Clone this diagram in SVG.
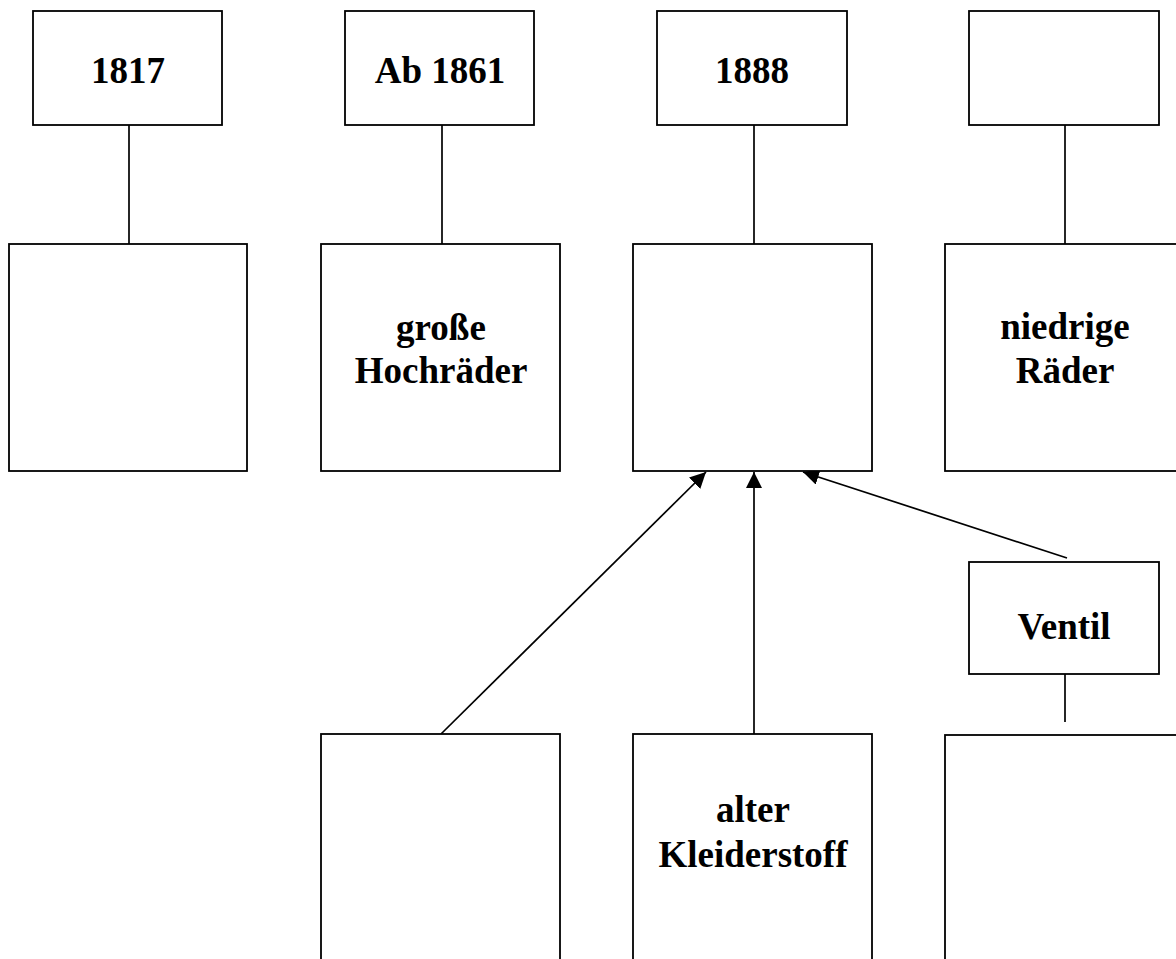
<svg xmlns="http://www.w3.org/2000/svg" width="1176" height="959" viewBox="0 0 1176 959">
<style>
.box{fill:#fff;stroke:#000;stroke-width:1.8}
.ln{fill:none;stroke:#000;stroke-width:1.7}
.t{font-family:"Liberation Serif","Times New Roman",serif;font-weight:bold;font-size:37px;fill:#000;text-anchor:middle}
</style>
<defs>
<marker id="ah" markerUnits="userSpaceOnUse" markerWidth="17" markerHeight="17" refX="16" refY="8" orient="auto">
<path d="M0,0 L16,8 L0,16 z" fill="#000"/>
</marker>
</defs>
<rect width="1176" height="959" fill="#fff"/>
<g id="connectors">
<line class="ln" x1="129" y1="125" x2="129" y2="245"/>
<line class="ln" x1="442" y1="125" x2="442" y2="245"/>
<line class="ln" x1="754" y1="125" x2="754" y2="245"/>
<line class="ln" x1="1065" y1="125" x2="1065" y2="245"/>
<line class="ln" x1="1065" y1="674" x2="1065" y2="722"/>
<line class="ln" x1="441" y1="734" x2="706" y2="472" marker-end="url(#ah)"/>
<line class="ln" x1="754" y1="734" x2="754" y2="472" marker-end="url(#ah)"/>
<line class="ln" x1="1067" y1="558" x2="803" y2="472" marker-end="url(#ah)"/>
</g>
<g id="n1817"><rect class="box" x="33" y="11" width="189" height="114"/><text class="t" x="128" y="83">1817</text></g>
<g id="n1861"><rect class="box" x="345" y="11" width="189" height="114"/><text class="t" x="440" y="83">Ab 1861</text></g>
<g id="n1888"><rect class="box" x="657" y="11" width="190" height="114"/><text class="t" x="752" y="83">1888</text></g>
<g id="nTop4"><rect class="box" x="969" y="11" width="190" height="114"/></g>
<g id="nMid1"><rect class="box" x="9" y="244" width="238" height="227"/></g>
<g id="nMid2"><rect class="box" x="321" y="244" width="239" height="227"/><text class="t" x="441" y="340">große</text><text class="t" x="441" y="383">Hochräder</text></g>
<g id="nMid3"><rect class="box" x="633" y="244" width="239" height="227"/></g>
<g id="nMid4"><rect class="box" x="945" y="244" width="239" height="227"/><text class="t" x="1065" y="339">niedrige</text><text class="t" x="1065" y="383">Räder</text></g>
<g id="nVentil"><rect class="box" x="969" y="562" width="190" height="112"/><text class="t" x="1064" y="639">Ventil</text></g>
<g id="nBot1"><rect class="box" x="321" y="734" width="239" height="240"/></g>
<g id="nBot2"><rect class="box" x="633" y="734" width="239" height="240"/><text class="t" x="753" y="822">alter</text><text class="t" x="753" y="867">Kleiderstoff</text></g>
<g id="nBot3"><rect class="box" x="945" y="735" width="239" height="240"/></g>
</svg>
